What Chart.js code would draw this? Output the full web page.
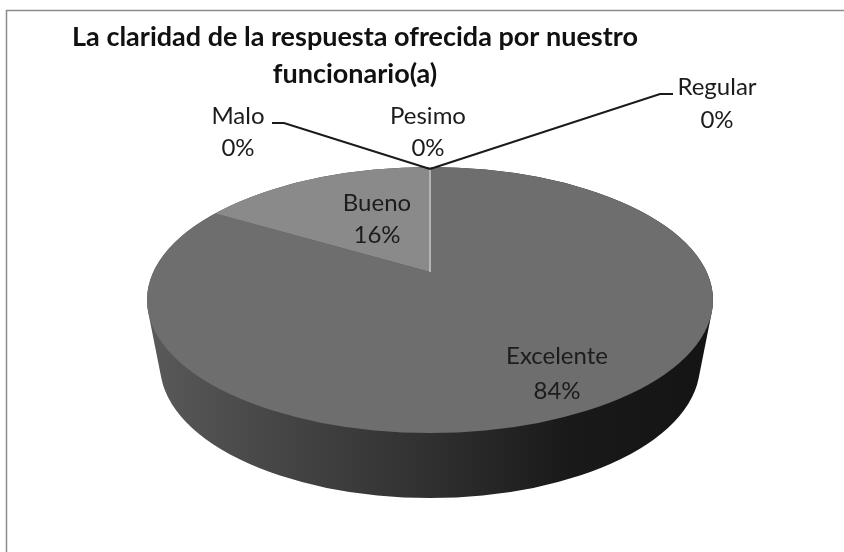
<!DOCTYPE html>
<html lang="es">
<head>
<meta charset="utf-8">
<title>La claridad de la respuesta</title>
<script src="https://cdn.jsdelivr.net/npm/chart.js@4/dist/chart.umd.min.js"></script>
<style>
  html, body { margin: 0; padding: 0; background: #fff; }
  #wrap { width: 844px; height: 552px; }
</style>
</head>
<body>
<div id="wrap"><canvas id="pieChart"></canvas></div>
<script>
// Chart data
const categories = ["Excelente", "Bueno", "Regular", "Malo", "Pesimo"];
const percents = [84, 16, 0, 0, 0];
const sliceColors = ["#6e6e6e", "#8a8a8a", "#b4b4b4", "#b4b4b4", "#b4b4b4"];
const titleLines = ["La claridad de la respuesta ofrecida por nuestro", "funcionario(a)"];

// Tilted disc layout, in page pixels
const disc = { cx: 430, cy: 300, rx: 283, ry: 133, apexY: 272, depth: 65, bottomRx: 270, squash: 0.43 };
const labelFont = "24px Lato, 'Open Sans', sans-serif";

// Where each label block sits (x centre, y of first line, y of second line)
const labelPlaces = {
  Excelente: [557, 356, 391],
  Bueno: [377, 203, 235],
  Regular: [717, 87, 120],
  Malo: [238, 116, 148],
  Pesimo: [428, 116, 148]
};

// Leader lines for the outside labels
const leaders = [
  [[272, 123], [284, 123], [430, 169]],
  [[673, 94], [660, 94], [430, 169]]
];

// Side wall of the disc, a stack of ellipses under the top face
function drawWall(ctx) {
  const grad = ctx.createLinearGradient(disc.cx - disc.rx, 0, disc.cx + disc.rx, 0);
  grad.addColorStop(0, "#5a5a5a");
  grad.addColorStop(0.2, "#484848");
  grad.addColorStop(0.5, "#303030");
  grad.addColorStop(0.75, "#191919");
  grad.addColorStop(1, "#141414");
  ctx.fillStyle = grad;
  ctx.beginPath();
  for (let i = 0; i <= disc.depth; i++) {
    const rx = disc.rx + (disc.bottomRx - disc.rx) * i / disc.depth;
    ctx.moveTo(disc.cx + rx, disc.cy + i);
    ctx.ellipse(disc.cx, disc.cy + i, rx, disc.ry, 0, 0, Math.PI * 2);
  }
  ctx.fill();
}

// Squashes the pie into the tilted top face and adds what the arcs don't draw
const tiltedPie = {
  id: "tiltedPie",
  beforeDraw(chart) {
    const ctx = chart.ctx;
    ctx.save();
    ctx.fillStyle = "#ffffff";
    ctx.fillRect(0, 0, chart.width, chart.height);
    ctx.strokeStyle = "#8c8c8c";
    ctx.lineWidth = 1.5;
    ctx.beginPath();
    ctx.moveTo(6.5, chart.height);
    ctx.lineTo(6.5, 10.5);
    ctx.lineTo(chart.width, 10.5);
    ctx.stroke();
    ctx.restore();
  },
  beforeDatasetsDraw(chart) {
    const ctx = chart.ctx;
    const arc = chart.getDatasetMeta(0).data[0];
    // the arcs overshoot the rim and get clipped to the top ellipse
    const sx = 400 / arc.outerRadius;
    const sy = sx * disc.squash;
    ctx.save();
    drawWall(ctx);
    ctx.beginPath();
    ctx.ellipse(disc.cx, disc.cy, disc.rx, disc.ry, 0, 0, Math.PI * 2);
    ctx.clip();
    ctx.translate(disc.cx, disc.apexY);
    ctx.scale(sx, sy);
    ctx.translate(-arc.x, -arc.y);
  },
  afterDatasetsDraw(chart) {
    const ctx = chart.ctx;
    const meta = chart.getDatasetMeta(0);
    // zero slices have no area, they only show as a pale radial line
    ctx.beginPath();
    meta.data.forEach((arc, i) => {
      if (percents[i] !== 0) return;
      ctx.moveTo(arc.x, arc.y);
      ctx.lineTo(arc.x + Math.cos(arc.startAngle) * arc.outerRadius, arc.y + Math.sin(arc.startAngle) * arc.outerRadius);
    });
    ctx.setTransform(1, 0, 0, 1, 0, 0);
    ctx.strokeStyle = sliceColors[2];
    ctx.lineWidth = 2;
    ctx.stroke();
    ctx.restore();

    ctx.save();
    ctx.strokeStyle = "#1a1a1a";
    ctx.lineWidth = 2;
    leaders.forEach(points => {
      ctx.beginPath();
      points.forEach(([x, y], i) => (i ? ctx.lineTo(x, y) : ctx.moveTo(x, y)));
      ctx.stroke();
    });

    ctx.font = labelFont;
    ctx.fillStyle = "#1c1c1c";
    ctx.textAlign = "center";
    ctx.textBaseline = "middle";
    categories.forEach((name, i) => {
      const [x, y1, y2] = labelPlaces[name];
      ctx.fillText(name, x, y1);
      ctx.fillText(percents[i] + "%", x, y2);
    });
    ctx.restore();
  }
};

new Chart(document.getElementById("pieChart"), {
  type: "pie",
  data: {
    labels: categories,
    datasets: [{
      data: percents,
      backgroundColor: sliceColors,
      borderWidth: 0
    }]
  },
  options: {
    responsive: true,
    maintainAspectRatio: false,
    animation: false,
    layout: { padding: { top: 19, right: 134 } },
    plugins: {
      legend: { display: false },
      tooltip: { enabled: false },
      title: {
        display: true,
        text: titleLines,
        color: "#111111",
        font: { family: "Lato, 'Open Sans', sans-serif", size: 27, weight: "bold", lineHeight: 1.37 },
        padding: 0
      }
    }
  },
  plugins: [tiltedPie]
});
</script>
</body>
</html>
